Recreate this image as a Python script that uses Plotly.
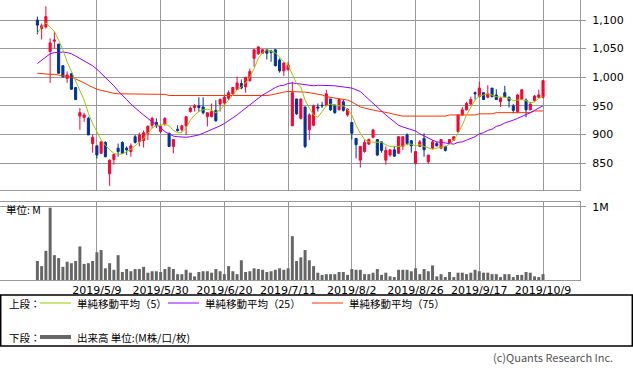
import plotly.graph_objects as go

# ---------------- data ----------------
dates = (
    ["2019/4/%d" % d for d in [11, 12, 15, 16, 17, 18, 19, 22, 23, 24, 25, 26]]
    + ["2019/5/%d" % d for d in [7, 8, 9, 10, 13, 14, 15, 16, 17, 20, 21, 22, 23, 24, 27, 28, 29, 30, 31]]
    + ["2019/6/%d" % d for d in [3, 4, 5, 6, 7, 10, 11, 12, 13, 14, 17, 18, 19, 20, 21, 24, 25, 26, 27, 28]]
    + ["2019/7/%d" % d for d in [1, 2, 3, 4, 5, 8, 9, 10, 11, 12, 16, 17, 18, 19, 22, 23, 24, 25, 26, 29, 30, 31]]
    + ["2019/8/%d" % d for d in [1, 2, 5, 6, 7, 8, 9, 13, 14, 15, 16, 19, 20, 21, 22, 23, 26, 27, 28, 29, 30]]
    + ["2019/9/%d" % d for d in [2, 3, 4, 5, 6, 9, 10, 11, 12, 13, 17, 18, 19, 20, 24, 25, 26, 27, 30]]
    + ["2019/10/%d" % d for d in [1, 2, 3, 4, 7, 8, 9]]
)

opens = [1100, 1085, 1088, 1045, 1063, 1058, 1020, 998, 1006, 982,
         932, 930, 928, 884, 880, 867, 886, 831, 856, 876,
         886, 876, 870, 896, 887, 889, 901, 916, 921, 905,
         918, 902, 879, 909, 908, 915, 940, 947, 950, 948,
         931, 931, 942, 953, 955, 963, 971, 979, 989, 983,
         994, 1033, 1041, 1042, 1048, 1046, 1048, 1030, 1011, 1013,
         915, 962, 928, 948, 908, 916, 948, 951, 951, 962,
         951, 943, 957, 934, 921, 893, 855, 870, 883, 895,
         891, 887, 855, 864, 873, 867, 879, 899, 889, 849,
         879, 893, 852, 876, 884, 876, 879, 884, 890, 905,
         934, 943, 953, 973, 966, 973, 965, 981, 969, 957,
         973, 965, 950, 940, 961, 960, 943, 959, 965, 965]
highs = [1106, 1094, 1124, 1068, 1080, 1058, 1021, 1010, 1007, 982,
         946, 938, 931, 900, 880, 887, 888, 856, 866, 884,
         888, 879, 884, 899, 903, 907, 916, 931, 928, 917,
         930, 903, 891, 916, 917, 931, 949, 953, 965, 965,
         938, 954, 960, 963, 968, 977, 983, 1001, 996, 1000,
         1015, 1049, 1054, 1049, 1049, 1048, 1049, 1033, 1026, 1027,
         992, 962, 962, 948, 937, 952, 954, 957, 978, 962,
         953, 963, 961, 946, 921, 893, 879, 891, 893, 908,
         891, 887, 879, 874, 880, 897, 896, 902, 890, 870,
         890, 902, 864, 890, 887, 891, 880, 891, 897, 934,
         948, 957, 966, 975, 992, 973, 986, 981, 979, 966,
         985, 966, 953, 971, 979, 963, 957, 969, 978, 995]
lows = [1075, 1066, 1085, 990, 1050, 1006, 999, 990, 978, 960,
        908, 922, 899, 868, 858, 866, 860, 810, 847, 861,
        866, 864, 861, 884, 879, 877, 890, 911, 911, 902,
        915, 878, 867, 905, 905, 899, 938, 940, 940, 935,
        914, 930, 922, 940, 951, 960, 969, 978, 979, 973,
        992, 1018, 1039, 1041, 1031, 1027, 1019, 1008, 1002, 1012,
        915, 934, 926, 876, 890, 914, 940, 946, 949, 941,
        936, 942, 940, 931, 891, 858, 842, 868, 882, 893,
        862, 868, 847, 861, 861, 866, 873, 881, 868, 848,
        878, 861, 848, 874, 879, 874, 870, 883, 889, 903,
        933, 942, 951, 961, 965, 960, 963, 965, 960, 948,
        965, 947, 937, 937, 960, 930, 942, 957, 963, 963]
closes = [1091, 1090, 1106, 1060, 1065, 1007, 1001, 1004, 979, 961,
          938, 934, 899, 895, 864, 887, 861, 855, 865, 870,
          867, 873, 880, 886, 899, 903, 914, 928, 915, 914,
          928, 879, 891, 907, 915, 931, 946, 950, 947, 938,
          938, 940, 924, 961, 965, 973, 982, 990, 981, 1000,
          1010, 1048, 1053, 1048, 1042, 1043, 1020, 1011, 1025, 1021,
          973, 936, 962, 879, 934, 950, 946, 950, 971, 943,
          938, 961, 942, 944, 902, 882, 879, 886, 891, 908,
          864, 872, 872, 873, 862, 896, 896, 884, 880, 870,
          887, 873, 864, 887, 880, 891, 872, 891, 896, 934,
          943, 954, 961, 971, 981, 961, 971, 966, 961, 963,
          966, 959, 942, 969, 978, 943, 953, 967, 969, 994]

ma5 = [1077, 1088, 1095, 1088, 1080, 1065, 1048, 1027, 1010, 995,
       978, 960, 937, 919, 905, 890, 881, 873, 867, 865,
       866, 870, 874, 880, 887, 893, 902, 911, 916, 916,
       918, 915, 907, 903, 903, 911, 925, 934, 940, 943,
       944, 942, 938, 943, 951, 960, 969, 978, 983, 990,
       1000, 1015, 1033, 1043, 1048, 1046, 1043, 1035, 1027, 1021,
       1004, 989, 983, 960, 946, 934, 930, 940, 950, 953,
       951, 950, 950, 944, 934, 916, 902, 891, 887, 887,
       886, 886, 882, 879, 879, 879, 879, 883, 883, 880,
       882, 879, 876, 874, 876, 877, 879, 883, 890, 902,
       916, 934, 948, 960, 967, 969, 971, 969, 966, 965,
       965, 963, 959, 960, 961, 959, 955, 957, 963, 966]
ma25 = [1024, 1030, 1036, 1041, 1043, 1044, 1044, 1043, 1041, 1037,
        1033, 1029, 1024, 1020, 1014, 1007, 1000, 992, 985, 976,
        969, 961, 953, 946, 940, 934, 928, 922, 918, 911,
        905, 901, 897, 896, 895, 895, 896, 897, 899, 902,
        905, 909, 911, 915, 919, 924, 928, 934, 940, 946,
        951, 957, 963, 969, 973, 978, 982, 985, 986, 989,
        990, 989, 988, 986, 985, 985, 986, 986, 986, 986,
        985, 984, 983, 982, 981, 978, 975, 968, 961, 954,
        947, 940, 934, 928, 922, 916, 913, 911, 909, 906,
        901, 897, 893, 890, 887, 886, 884, 883, 883, 886,
        887, 890, 893, 896, 901, 903, 907, 909, 914, 916,
        920, 922, 925, 928, 931, 934, 938, 942, 946, 950]
ma75 = [1007, 1006, 1006, 1005, 1005, 1004, 1003, 1002, 1000, 997,
        994, 990, 986, 982, 979, 977, 975, 974, 972, 971,
        971, 971, 971, 971, 971, 971, 971, 970, 970, 970,
        970, 968, 968, 968, 968, 968, 968, 968, 968, 968,
        967, 967, 967, 967, 967, 967, 967, 967, 967, 967,
        967, 967, 968, 968, 968, 969, 971, 972, 974, 975,
        975, 975, 975, 974, 973, 972, 971, 969, 966, 965,
        964, 962, 961, 960, 957, 953, 948, 946, 944, 942,
        941, 940, 939, 937, 935, 933, 932, 932, 932, 932,
        932, 932, 932, 932, 932, 932, 932, 934, 934, 934,
        934, 934, 934, 934, 936, 936, 936, 936, 938, 938,
        938, 938, 938, 938, 938, 938, 938, 941, 941, 941]

volume_m = [0.26, 0.19, 0.40, 0.99, 0.34, 0.30, 0.18, 0.25, 0.23, 0.26,
            0.46, 0.22, 0.23, 0.26, 0.38, 0.41, 0.16, 0.23, 0.14, 0.34,
            0.11, 0.15, 0.12, 0.15, 0.15, 0.18, 0.10, 0.12, 0.12, 0.11,
            0.15, 0.18, 0.15, 0.08, 0.08, 0.14, 0.10, 0.05, 0.11, 0.12,
            0.12, 0.10, 0.15, 0.12, 0.08, 0.19, 0.12, 0.08, 0.27, 0.11,
            0.12, 0.16, 0.15, 0.14, 0.11, 0.12, 0.14, 0.16, 0.14, 0.16,
            0.60, 0.26, 0.31, 0.41, 0.27, 0.19, 0.10, 0.07, 0.08, 0.08,
            0.08, 0.11, 0.11, 0.07, 0.15, 0.14, 0.14, 0.08, 0.08, 0.10,
            0.15, 0.07, 0.10, 0.05, 0.04, 0.14, 0.14, 0.14, 0.12, 0.16,
            0.08, 0.15, 0.12, 0.20, 0.05, 0.08, 0.04, 0.11, 0.04, 0.10,
            0.10, 0.08, 0.10, 0.14, 0.12, 0.10, 0.10, 0.08, 0.08, 0.04,
            0.08, 0.08, 0.04, 0.07, 0.07, 0.11, 0.10, 0.05, 0.04, 0.08]

tick_dates = ["2019/5/9", "2019/5/30", "2019/6/20", "2019/7/11",
              "2019/8/2", "2019/8/26", "2019/9/17", "2019/10/9"]
price_ticks = [850, 900, 950, 1000, 1050, 1100]
price_tick_text = ["850", "900", "950", "1,000", "1,050", "1,100"]
volume_ticks = [1]
volume_tick_text = ["1M"]

legend_labels = ["単純移動平均（5）", "単純移動平均（25）", "単純移動平均（75）"]
volume_label = "出来高 単位:(M株/口/枚)"

# ---------------- styling ----------------
W, H = 633, 371
FONT = "Noto Sans CJK JP, DejaVu Sans, sans-serif"
GRID = "#999999"
C_UP, C_DN = "#ff0033", "#003399"
C_MA5, C_MA25, C_MA75 = "#99cc00", "#9900ff", "#ff3300"
C_VOL = "#666666"


def px(x):
    return x / W


def py(y):
    return 1 - y / H


XR = [-8.8, 127.7]

fig = go.Figure()
fig.add_trace(go.Candlestick(
    x=dates, open=opens, high=highs, low=lows, close=closes,
    increasing=dict(fillcolor=C_UP, line=dict(color=C_UP, width=1)),
    decreasing=dict(fillcolor=C_DN, line=dict(color=C_DN, width=1)),
    whiskerwidth=0, xaxis="x", yaxis="y", showlegend=False, hoverinfo="skip"))
for vals, col in [(ma75, C_MA75), (ma25, C_MA25), (ma5, C_MA5)]:
    fig.add_trace(go.Scatter(x=dates, y=vals, mode="lines",
                             line=dict(color=col, width=1),
                             xaxis="x", yaxis="y", showlegend=False, hoverinfo="skip"))
fig.add_trace(go.Bar(x=dates, y=volume_m, marker=dict(color=C_VOL, line=dict(width=0)),
                     width=0.7, xaxis="x2", yaxis="y2", showlegend=False, hoverinfo="skip"))

axis_common = dict(showline=True, mirror=True, linecolor=GRID, linewidth=1,
                   gridcolor=GRID, gridwidth=1, zeroline=False, fixedrange=True)

fig.update_layout(
    width=W, height=H, margin=dict(l=0, r=0, t=0, b=0),
    paper_bgcolor="white", plot_bgcolor="white",
    font=dict(family=FONT, size=11, color="#000000"),
    boxgap=0.3,
    xaxis=dict(axis_common, type="category", domain=[0, px(580)], anchor="y",
               range=XR, tickmode="array", tickvals=tick_dates, showticklabels=False,
               ticks="", rangeslider=dict(visible=False), showgrid=True),
    yaxis=dict(axis_common, domain=[py(190), 1], anchor="x", side="right",
               range=[802.8, 1135], tickmode="array", tickvals=price_ticks,
               ticktext=price_tick_text, ticks="outside", ticklen=5, tickcolor=GRID,
               ticklabelstandoff=4, tickfont=dict(size=11, family="DejaVu Sans")),
    xaxis2=dict(axis_common, type="category", domain=[0, px(580)], anchor="y2",
                range=XR, tickmode="array", tickvals=tick_dates, ticktext=tick_dates,
                ticks="", showgrid=True, tickfont=dict(size=11, family="DejaVu Sans")),
    yaxis2=dict(axis_common, domain=[py(280), py(202)], anchor="x2", side="right",
                range=[0, 1.068], tickmode="array", tickvals=volume_ticks,
                ticktext=volume_tick_text, ticks="outside", ticklen=5, tickcolor=GRID,
                ticklabelstandoff=4, tickfont=dict(size=11, family="DejaVu Sans")),
)

shapes = []
# legend box
shapes.append(dict(type="rect", xref="paper", yref="paper",
                   x0=px(0.7), x1=px(632.3), y0=py(346), y1=py(295),
                   line=dict(color="#000000", width=1.5), fillcolor="rgba(0,0,0,0)"))
# legend line samples
for (x0, col) in [(40, C_MA5), (168, C_MA25), (312, C_MA75)]:
    shapes.append(dict(type="line", xref="paper", yref="paper",
                       x0=px(x0), x1=px(x0 + 31), y0=py(303), y1=py(303),
                       line=dict(color=col, width=1)))
shapes.append(dict(type="line", xref="paper", yref="paper",
                   x0=px(40), x1=px(71), y0=py(337), y1=py(337),
                   line=dict(color=C_VOL, width=4)))
fig.update_layout(shapes=shapes)

ann = []


def text(x, y, s, size=11, color="#000000", anchor="left"):
    ann.append(dict(x=px(x), y=py(y), xref="paper", yref="paper", text=s,
                    showarrow=False, xanchor=anchor, yanchor="middle",
                    font=dict(size=size, color=color, family=FONT)))


text(7, 303, "上段：", size=10.5)
text(75, 303, legend_labels[0], size=10.5)
text(203, 303, legend_labels[1], size=10.5)
text(347, 303, legend_labels[2], size=10.5)
text(7, 337, "下段：", size=10.5)
text(75, 337, volume_label, size=10.5)
text(4, 209, "単位: M", size=10.5)
text(615, 357, "(c)Quants Research Inc.", size=11, color="#555555", anchor="right")
fig.update_layout(annotations=ann)

fig.write_html("out.html",
               config={"displayModeBar": False, "staticPlot": True},
               post_script="document.body.style.margin='0';document.body.style.overflow='hidden';")
